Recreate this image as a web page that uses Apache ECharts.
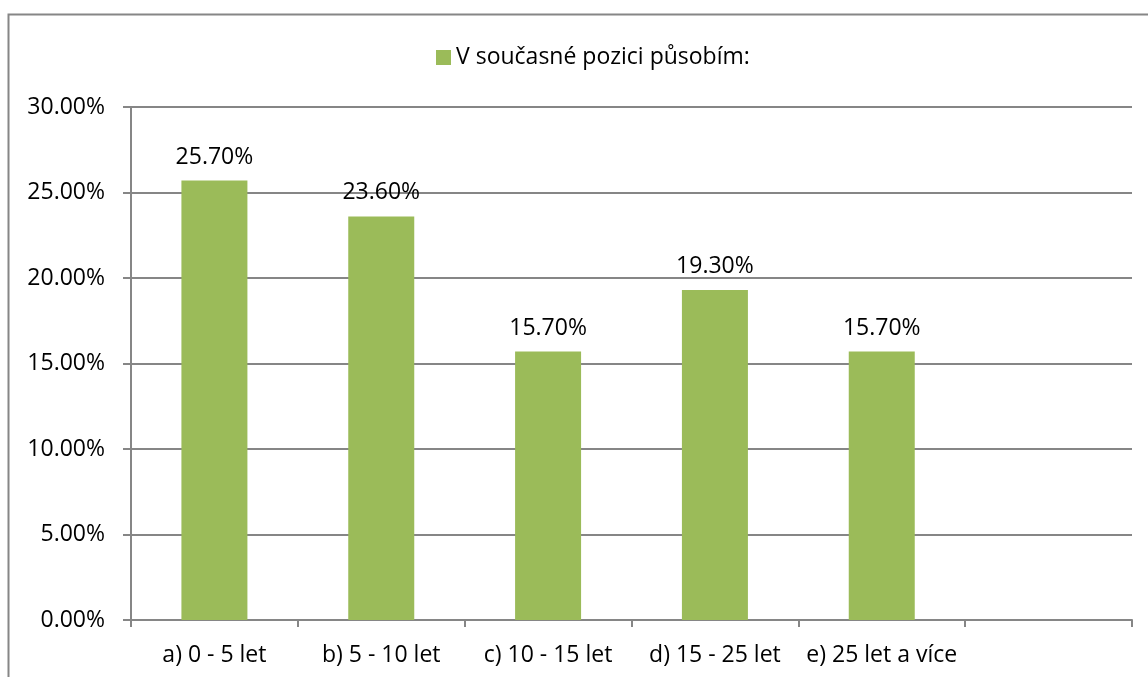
<!DOCTYPE html>
<html>
<head>
<meta charset="utf-8">
<script src="https://cdn.jsdelivr.net/npm/echarts@6/dist/echarts.min.js"></script>
<style>
  html, body { margin: 0; padding: 0; background: #fff; }
  #chart { width: 1148px; height: 677px; }
</style>
</head>
<body>
<div id="chart"></div>
<script>
const categories = ['a) 0 - 5 let', 'b) 5 - 10 let', 'c) 10 - 15 let', 'd) 15 - 25 let', 'e) 25 let a více', '']
const values = [25.7, 23.6, 15.7, 19.3, 15.7, null]
const seriesName = 'V současné pozici působím:'

const chart = echarts.init(document.getElementById('chart'))
const font = '"Open Sans", "Noto Sans", sans-serif'
const axisGray = '#868686'
const fs = 23

chart.setOption({
  backgroundColor: '#fff',
  animation: false,
  textStyle: { fontFamily: font },
  graphic: [{
    type: 'rect',
    shape: { x: 8.5, y: 14.5, width: 1200, height: 700 },
    style: { fill: 'none', stroke: axisGray, lineWidth: 2 },
    silent: true
  }],
  legend: {
    top: 41,
    left: 431,
    itemWidth: 15,
    itemHeight: 15,
    itemGap: 8,
    icon: 'rect',
    textStyle: { fontSize: fs, color: '#000', fontFamily: font },
    data: [seriesName]
  },
  grid: { left: 131, right: 16, top: 107, bottom: 57 },
  xAxis: {
    type: 'category',
    data: categories,
    axisLine: { lineStyle: { color: axisGray, width: 2 } },
    axisTick: { show: true, length: 7, alignWithLabel: false, lineStyle: { color: axisGray, width: 2 } },
    axisLabel: { color: '#000', fontSize: fs, margin: 24, interval: 0, fontFamily: font }
  },
  yAxis: {
    type: 'value',
    min: 0,
    max: 30,
    interval: 5,
    axisLine: { show: true, lineStyle: { color: axisGray, width: 2 } },
    axisTick: { show: true, length: 8, lineStyle: { color: axisGray, width: 2 } },
    axisLabel: {
      color: '#000', fontSize: fs, margin: 26, fontFamily: font,
      formatter: (v) => v.toFixed(2) + '%'
    },
    splitLine: { lineStyle: { color: axisGray, width: 2 } }
  },
  series: [{
    name: seriesName,
    type: 'bar',
    data: values,
    barWidth: 66,
    itemStyle: { color: '#9BBB59' },
    label: {
      show: true,
      position: 'top',
      distance: 12,
      color: '#000',
      fontSize: fs,
      fontFamily: font,
      formatter: (p) => p.value.toFixed(2) + '%'
    }
  }]
})
</script>
</body>
</html>
